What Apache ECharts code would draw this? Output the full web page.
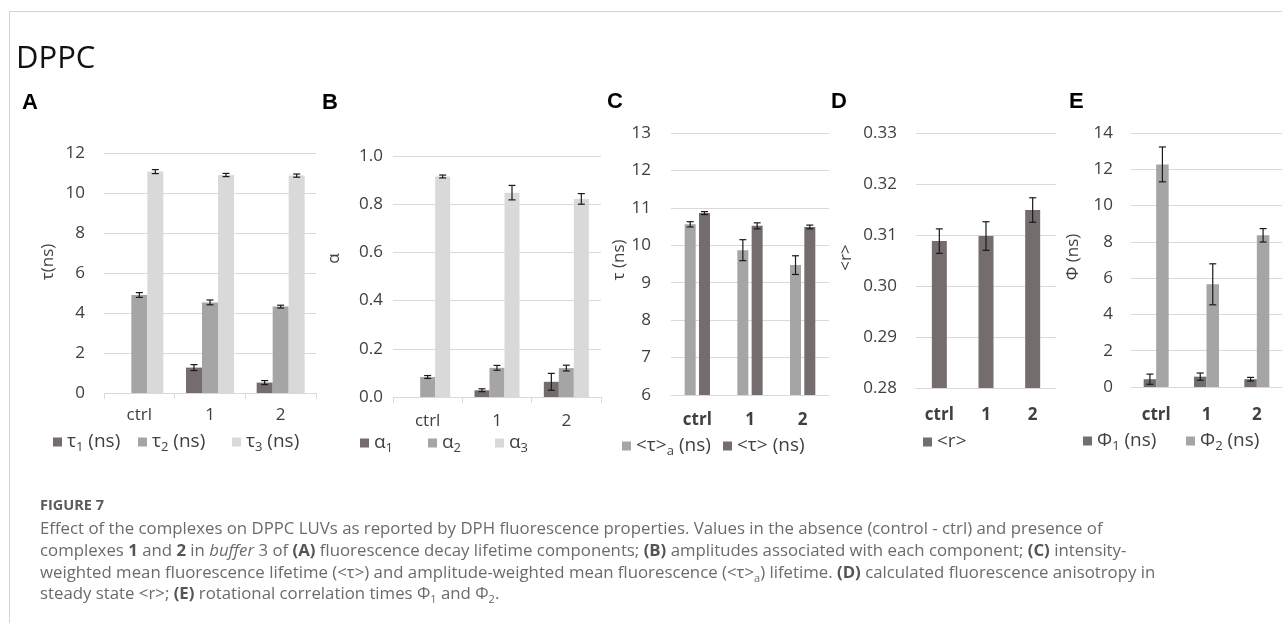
<!DOCTYPE html>
<html>
<head>
<meta charset="utf-8">
<title>DPPC - Figure 7</title>
<script src="https://cdn.jsdelivr.net/npm/echarts@6/dist/echarts.min.js"></script>
<style>
  html, body { margin: 0; padding: 0; background: #fff; }
  #wrap { position: relative; width: 1282px; height: 623px; overflow: hidden; }
  #frame { position: absolute; left: 9px; top: 11px; width: 1400px; height: 700px;
           border-top: 1px solid #d3d3d3; border-left: 1px solid #d3d3d3; }
  #chart { position: absolute; left: 0; top: 0; width: 1282px; height: 623px; }
  #caption { position: absolute; left: 40px; top: 494px; font-family: "Open Sans";
             color: #6b6b6b; font-size: 16.8px; line-height: 21.7px; white-space: nowrap; }
  #caption .fig { font-weight: 700; color: #5a5a5a; font-size: 14.5px; margin-bottom: 1.5px; }
  #caption b { font-weight: 700; color: #555; }
  #caption sub { font-size: 11px; line-height: 0; }
</style>
</head>
<body>
<div id="wrap">
  <div id="frame"></div>
  <div id="chart"></div>
  <div id="caption">
    <div class="fig">FIGURE 7</div>
    <div>Effect of the complexes on DPPC LUVs as reported by DPH fluorescence properties. Values in the absence (control - ctrl) and presence of</div>
    <div>complexes <b>1</b> and <b>2</b> in <i>buffer</i> 3 of <b>(A)</b> fluorescence decay lifetime components; <b>(B)</b> amplitudes associated with each component; <b>(C)</b> intensity-</div>
    <div>weighted mean fluorescence lifetime (&lt;τ&gt;) and amplitude-weighted mean fluorescence (&lt;τ&gt;<sub>a</sub>) lifetime. <b>(D)</b> calculated fluorescence anisotropy in</div>
    <div>steady state &lt;r&gt;; <b>(E)</b> rotational correlation times Φ<sub>1</sub> and Φ<sub>2</sub>.</div>
  </div>
</div>
<script>
// categories
const cats = ['ctrl', '1', '2'];

// (A) lifetime components
const tau1 = [0, 1.27, 0.52];
const tau1Err = [0, 0.15, 0.1];
const tau2 = [4.9, 4.53, 4.32];
const tau2Err = [0.12, 0.12, 0.07];
const tau3 = [11.07, 10.9, 10.87];
const tau3Err = [0.1, 0.08, 0.08];

// (B) amplitudes
const alpha1 = [0, 0.028, 0.063];
const alpha1Err = [0, 0.006, 0.035];
const alpha2 = [0.083, 0.121, 0.12];
const alpha2Err = [0.006, 0.01, 0.012];
const alpha3 = [0.915, 0.848, 0.822];
const alpha3Err = [0.006, 0.03, 0.022];

// (C) mean lifetimes
const tauAmp = [10.56, 9.87, 9.47];
const tauAmpErr = [0.07, 0.28, 0.25];
const tauInt = [10.86, 10.52, 10.49];
const tauIntErr = [0.04, 0.08, 0.05];

// (D) anisotropy
const rVals = [0.3088, 0.3098, 0.3149];
const rErr = [0.0024, 0.0028, 0.0024];

// (E) rotational correlation times
const phi1 = [0.43, 0.57, 0.43];
const phi1Err = [0.28, 0.2, 0.1];
const phi2 = [12.27, 5.66, 8.36];
const phi2Err = [0.96, 1.13, 0.37];

const FONT = 'Open Sans';
const TXT = '#404040';
const DARK = '#756d6d', MID = '#a5a5a5', LIGHT = '#d9d9d9';
const GRIDC = '#d9d9d9';

// legend text with subscripts
const legendLabel = {
  'τ1 (ns)': 'τ{s|1} (ns)', 'τ2 (ns)': 'τ{s|2} (ns)', 'τ3 (ns)': 'τ{s|3} (ns)',
  'α1': 'α{s|1}', 'α2': 'α{s|2}', 'α3': 'α{s|3}',
  '<τ>a (ns)': '<τ>{s|a} (ns)', '<τ> (ns)': '<τ> (ns)',
  '<r>': '<r>',
  'Φ1 (ns)': 'Φ{s|1} (ns)', 'Φ2 (ns)': 'Φ{s|2} (ns)'
};

function xAx(i, bold, ticks, margin) {
  return {
    type: 'category', gridIndex: i, data: cats,
    axisLine: { lineStyle: { color: GRIDC } },
    axisTick: { show: ticks, length: 6, lineStyle: { color: GRIDC } },
    axisLabel: { color: TXT, fontFamily: FONT, fontSize: 17, fontWeight: bold ? 'bold' : 'normal', margin: margin }
  };
}

function yAx(i, min, max, interval, name, nameGap, shift, margin, dec) {
  return {
    type: 'value', gridIndex: i, min: min, max: max, interval: interval,
    name: name, nameLocation: 'middle', nameGap: nameGap, nameRotate: 90,
    nameTextStyle: { color: TXT, fontFamily: FONT, fontSize: 17, padding: [0, 0, 0, shift] },
    axisLine: { show: false }, axisTick: { show: false },
    splitLine: { lineStyle: { color: GRIDC } },
    axisLabel: { color: TXT, fontFamily: FONT, fontSize: 17, margin: margin,
      formatter: v => v.toFixed(dec) }
  };
}

function bar(name, i, vals, color, bw, gap) {
  return { name: name, type: 'bar', xAxisIndex: i, yAxisIndex: i, data: vals,
    barWidth: bw, barGap: gap, itemStyle: { color: color } };
}

// error bars, off = x offset of the bar from the category centre
function errBar(i, vals, errs, off) {
  return {
    type: 'custom', xAxisIndex: i, yAxisIndex: i, z: 5, silent: true,
    data: vals.map((v, k) => [k, v, errs[k]]),
    renderItem: function (params, api) {
      const e = api.value(2);
      if (!e) return;
      const hi = api.coord([api.value(0), api.value(1) + e]);
      const lo = api.coord([api.value(0), api.value(1) - e]);
      const x = hi[0] + off, cw = 3.5;
      const st = { stroke: '#1a1a1a', lineWidth: 1.2 };
      return { type: 'group', children: [
        { type: 'line', shape: { x1: x, y1: hi[1], x2: x, y2: lo[1] }, style: st },
        { type: 'line', shape: { x1: x - cw, y1: hi[1], x2: x + cw, y2: hi[1] }, style: st },
        { type: 'line', shape: { x1: x - cw, y1: lo[1], x2: x + cw, y2: lo[1] }, style: st }
      ] };
    }
  };
}

// one legend per item so every item can sit where it sits in the figure
function leg(name, left, centerY) {
  return {
    data: [name], left: left, top: centerY - 12, icon: 'rect', itemWidth: 9, itemHeight: 9,
    padding: 0, itemGap: 0, selectedMode: false,
    formatter: n => legendLabel[n] || n,
    textStyle: { color: TXT, fontFamily: FONT, fontSize: 19, lineHeight: 24,
      rich: { s: { fontFamily: FONT, fontSize: 13, color: TXT, verticalAlign: 'bottom', lineHeight: 8 } } }
  };
}

function letter(t, left, top) {
  return { text: t, left: left, top: top, padding: 0,
    textStyle: { fontFamily: 'Liberation Sans', fontWeight: 'bold', fontSize: 22, color: '#000' } };
}

let myChart = echarts.init(document.getElementById('chart'));
let option = {
  animation: false,
  title: [
    { text: 'DPPC', left: 16, top: 44, padding: 0,
      textStyle: { fontFamily: FONT, fontSize: 31, fontWeight: 'normal', color: '#111' } },
    letter('A', 22, 92), letter('B', 322, 92), letter('C', 607, 91),
    letter('D', 831, 91), letter('E', 1069, 91)
  ],
  grid: [
    { left: 104, top: 153, width: 212, height: 240 },
    { left: 393, top: 156, width: 208, height: 241 },
    { left: 671, top: 133, width: 158, height: 262 },
    { left: 916, top: 133, width: 140, height: 255 },
    { left: 1131, top: 133, width: 151, height: 254 }
  ],
  xAxis: [
    xAx(0, false, true, 14),
    xAx(1, false, true, 16),
    xAx(2, true, false, 17),
    xAx(3, true, false, 19),
    xAx(4, true, false, 20)
  ],
  yAxis: [
    yAx(0, 0, 12, 2, 'τ(ns)', 47, 22, 19, 0),
    yAx(1, 0, 1, 0.2, 'α', 50, 36, 10, 1),
    yAx(2, 6, 13, 1, 'τ (ns)', 38, 8, 20, 0),
    yAx(3, 0.28, 0.33, 0.01, '<r>', 61, 6, 19, 2),
    yAx(4, 0, 14, 2, 'Φ (ns)', 49, 6, 18, 0)
  ],
  legend: [
    leg('τ1 (ns)', 53, 442), leg('τ2 (ns)', 138, 442), leg('τ3 (ns)', 232, 442),
    leg('α1', 360, 443), leg('α2', 428, 443), leg('α3', 495, 443),
    leg('<τ>a (ns)', 622, 446), leg('<τ> (ns)', 723, 446),
    leg('<r>', 923, 442),
    leg('Φ1 (ns)', 1083, 441), leg('Φ2 (ns)', 1186, 441)
  ],
  series: [
    bar('τ1 (ns)', 0, tau1, DARK, 16, 0),
    bar('τ2 (ns)', 0, tau2, MID, 16, 0),
    bar('τ3 (ns)', 0, tau3, LIGHT, 16, 0),
    errBar(0, tau1, tau1Err, -16), errBar(0, tau2, tau2Err, 0), errBar(0, tau3, tau3Err, 16),

    bar('α1', 1, alpha1, DARK, 15, 0),
    bar('α2', 1, alpha2, MID, 15, 0),
    bar('α3', 1, alpha3, LIGHT, 15, 0),
    errBar(1, alpha1, alpha1Err, -15), errBar(1, alpha2, alpha2Err, 0), errBar(1, alpha3, alpha3Err, 15),

    bar('<τ>a (ns)', 2, tauAmp, MID, 11, '30%'),
    bar('<τ> (ns)', 2, tauInt, DARK, 11, '30%'),
    errBar(2, tauAmp, tauAmpErr, -7.15), errBar(2, tauInt, tauIntErr, 7.15),

    bar('<r>', 3, rVals, DARK, 15, 0),
    errBar(3, rVals, rErr, 0),

    bar('Φ1 (ns)', 4, phi1, DARK, 12.5, 0),
    bar('Φ2 (ns)', 4, phi2, MID, 12.5, 0),
    errBar(4, phi1, phi1Err, -6.25), errBar(4, phi2, phi2Err, 6.25)
  ]
};
myChart.setOption(option);
</script>
</body>
</html>
